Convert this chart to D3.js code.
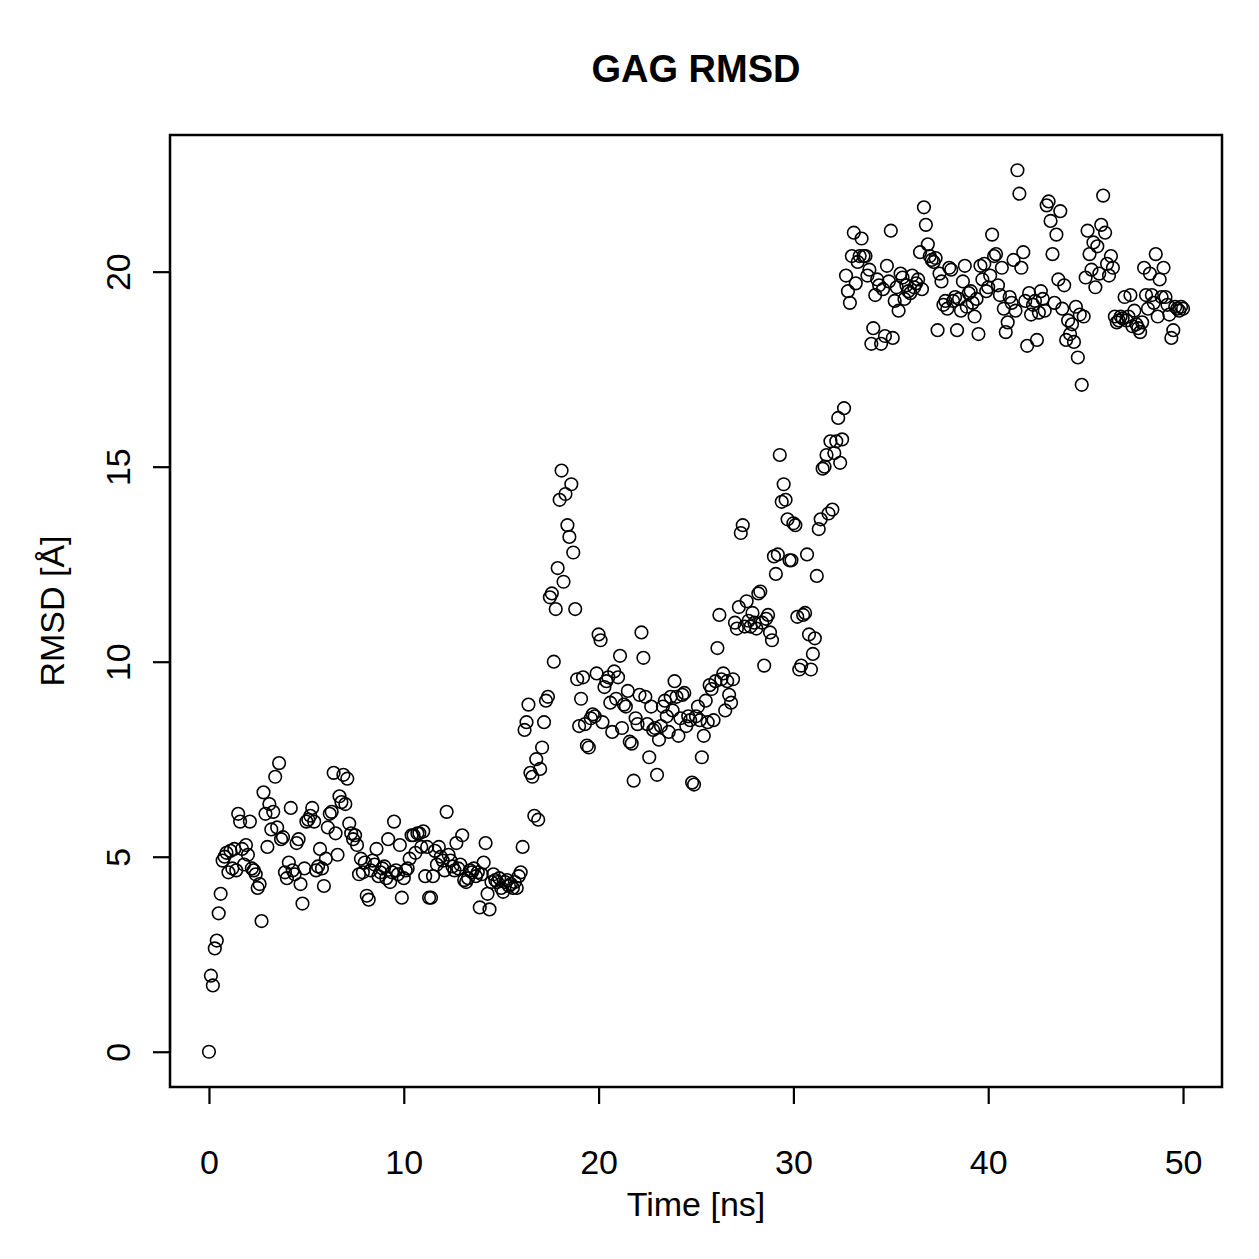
<!DOCTYPE html>
<html>
<head>
<meta charset="utf-8">
<script src="https://cdn.jsdelivr.net/npm/d3@7"></script>
<style>
  body { margin: 0; background: #fff; }
  text { font-family: "Liberation Sans", Arial, sans-serif; fill: #000; }
</style>
</head>
<body>
<div id="chart"></div>
<script>
// Data: RMSD sampled every 0.1 ns, grouped by 1 ns blocks
const timeStep = 0.1;
const rmsd0to16 = [
  0, 1.95, 1.7, 2.65, 2.85, 3.55, 4.05, 4.9, 5.0, 5.1,
  4.6, 5.15, 4.7, 5.2, 4.65, 6.1, 5.9, 5.2, 4.8, 5.3,
  5.05, 5.9, 4.7, 4.65, 4.55, 4.2, 4.3, 3.35, 6.65, 6.1,
  5.25, 6.35, 5.7, 6.15, 7.05, 5.75, 7.4, 5.45, 5.5, 4.6,
  4.45, 4.85, 6.25, 4.65, 4.55, 5.35, 5.45, 4.3, 3.8, 4.7,
  5.9, 5.95, 6.05, 6.25, 5.9, 4.65, 4.75, 5.2, 4.7, 4.25,
  4.95, 5.75, 6.1, 6.15, 7.15, 5.6, 5.05, 6.55, 6.4, 7.1,
  6.35, 7.0, 5.85, 5.6, 5.45, 5.55, 5.3, 4.55, 4.95, 4.6,
  4.85, 4.0, 3.9, 4.65, 4.9, 4.8, 5.2, 4.5, 4.6, 4.7,
  4.75, 4.45, 5.45, 4.35, 4.6, 5.9, 4.65, 4.55, 5.3, 3.95,
  4.45, 4.65, 4.7, 4.95, 5.55, 5.55, 5.1, 5.6, 5.6, 5.25,
  5.65, 4.5, 5.25, 3.95, 3.95, 4.5, 5.15, 4.8, 5.25, 5.0,
  4.9, 4.65, 6.15, 5.05, 4.9, 4.75, 4.65, 5.35, 4.7, 4.8,
  5.55, 4.4, 4.35, 4.45, 4.65, 4.6, 4.7, 4.5, 4.6, 3.7,
  4.55, 4.85, 5.35, 4.05, 3.65, 4.35, 4.55, 4.4, 4.35, 4.45,
  4.2, 4.1, 4.35, 4.4, 4.25, 4.3, 4.2, 4.35, 4.2, 4.5
];
const rmsd16to33 = [
  4.6, 5.25, 8.25, 8.45, 8.9, 7.15, 7.05, 6.05, 7.5, 5.95,
  7.25, 7.8, 8.45, 9.0, 9.1, 11.65, 11.75, 10.0, 11.35, 12.4,
  14.15, 14.9, 12.05, 14.3, 13.5, 13.2, 14.55, 12.8, 11.35, 9.55,
  8.35, 9.05, 9.6, 8.4, 7.85, 7.8, 8.55, 8.65, 8.6, 9.7,
  10.7, 10.55, 8.45, 9.35, 9.5, 9.6, 8.95, 8.2, 9.75, 9.05,
  9.6, 10.15, 8.3, 8.9, 8.85, 9.25, 7.95, 7.9, 6.95, 8.55,
  8.4, 9.15, 10.75, 10.1, 9.1, 8.4, 7.55, 8.85, 8.25, 8.3,
  7.1, 8.0, 8.35, 8.85, 9.0, 8.6, 8.2, 9.1, 8.75, 9.5,
  9.1, 8.1, 8.55, 9.15, 9.2, 8.35, 8.6, 8.5, 6.9, 6.85,
  8.6, 8.85, 8.5, 7.55, 8.1, 9.0, 8.45, 9.4, 9.3, 8.5,
  9.5, 10.35, 11.2, 9.55, 9.7, 8.75, 9.5, 9.15, 8.95, 9.55,
  11.0, 10.85, 11.4, 13.3, 13.5, 10.9, 11.55, 11.05, 10.9, 11.25,
  11.0, 10.85, 11.75, 11.8, 11.0, 9.9, 11.1, 11.2, 10.75, 10.55,
  12.7, 12.25, 12.75, 15.3, 14.1, 14.55, 14.15, 13.65, 12.6, 12.6,
  13.55, 13.5, 11.15, 9.8, 9.9, 11.2, 11.25, 12.75, 10.7, 9.8,
  10.2, 10.6, 12.2, 13.4, 13.65, 14.95, 15.0, 15.3, 13.8, 15.65,
  13.9, 15.35, 15.65, 16.25, 15.1, 15.7, 16.5
];
const rmsd33to50 = [
  19.9, 19.5, 19.2, 20.4, 21.0, 19.7, 20.25, 20.4, 20.85, 20.4,
  20.4, 19.9, 20.05, 18.15, 18.55, 19.4, 19.8, 19.65, 18.15, 19.55,
  18.35, 20.15, 19.75, 21.05, 18.3, 19.25, 19.6, 19.0, 19.95, 19.85,
  19.3, 19.65, 19.5, 19.45, 19.9, 19.6, 19.7, 19.8, 20.5, 19.55,
  21.65, 21.2, 20.7, 20.4, 20.3, 20.25, 20.35, 18.5, 19.95, 19.75,
  19.15, 19.25, 19.05, 20.1, 20.05, 19.25, 19.35, 18.5, 19.3, 19.0,
  19.75, 20.15, 19.1, 19.45, 19.5, 19.2, 18.85, 19.3, 18.4, 20.15,
  19.8, 20.2, 19.5, 19.6, 19.9, 20.95, 20.4, 20.45, 19.65, 19.4,
  20.1, 19.05, 18.45, 18.7, 19.35, 19.2, 20.3, 19.0, 22.6, 22.0,
  20.1, 20.5, 19.25, 18.1, 19.45, 18.9, 19.15, 19.25, 18.25, 18.95,
  19.5, 19.3, 19.0, 21.7, 21.8, 21.3, 20.45, 19.2, 20.95, 19.8,
  21.55, 19.05, 19.65, 18.25, 18.75, 18.4, 18.65, 18.2, 19.1, 17.8,
  18.9, 17.1, 18.85, 19.85, 21.05, 20.45, 20.05, 20.75, 19.6, 20.65,
  19.95, 21.2, 21.95, 21.0, 20.2, 19.9, 20.4, 20.1, 18.85, 18.7,
  18.75, 18.85, 18.8, 19.35, 18.75, 18.85, 19.4, 18.6, 19.0, 18.65,
  18.55, 18.45, 18.7, 20.1, 19.4, 19.05, 19.95, 19.4, 19.2, 20.45,
  18.85, 19.8, 19.35, 20.1, 19.35, 19.15, 18.9, 18.3, 18.5, 19.1,
  19.05, 19.0, 19.1, 19.05
];
const xTicks = [0, 10, 20, 30, 40, 50];
const yTicks = [0, 5, 10, 15, 20];
const titleText = 'GAG RMSD';
const xLabel = 'Time [ns]';
const yLabel = 'RMSD [Å]';

const rmsd = rmsd0to16.concat(rmsd16to33, rmsd33to50);
const dataset = rmsd.map((v, i) => ({ time: +(i * timeStep).toFixed(1), rmsd: v }));
const xAccessor = (d) => d.time;
const yAccessor = (d) => d.rmsd;

// Dimensions
const dimensions = {
  width: 1259,
  height: 1259,
  margin: { top: 135, bottom: 172, left: 170, right: 37 }
};
dimensions.ctrWidth = dimensions.width - dimensions.margin.left - dimensions.margin.right;
dimensions.ctrHeight = dimensions.height - dimensions.margin.top - dimensions.margin.bottom;

const svg = d3.select('#chart')
  .append('svg')
  .attr('width', dimensions.width)
  .attr('height', dimensions.height);

const ctr = svg.append('g')
  .attr('transform', `translate(${dimensions.margin.left},${dimensions.margin.top})`);

// Scales (R style: 4% padding on each side)
const pad = (ext) => {
  const r = ext[1] - ext[0];
  return [ext[0] - 0.04 * r, ext[1] + 0.04 * r];
};
const xScale = d3.scaleLinear()
  .domain(pad(d3.extent(dataset, xAccessor)))
  .range([0, dimensions.ctrWidth]);
const yScale = d3.scaleLinear()
  .domain(pad(d3.extent(dataset, yAccessor)))
  .range([dimensions.ctrHeight, 0]);

// Points
ctr.selectAll('circle')
  .data(dataset)
  .join('circle')
  .attr('cx', (d) => xScale(xAccessor(d)))
  .attr('cy', (d) => yScale(yAccessor(d)))
  .attr('r', 6.3)
  .attr('fill', 'none')
  .attr('stroke', '#000')
  .attr('stroke-width', 1.6);

// Box
ctr.append('rect')
  .attr('width', dimensions.ctrWidth)
  .attr('height', dimensions.ctrHeight)
  .attr('fill', 'none')
  .attr('stroke', '#000')
  .attr('stroke-width', 2.5);

// Axes
const xAxis = d3.axisBottom(xScale).tickValues(xTicks).tickSize(17).tickPadding(46).tickSizeOuter(0);
const xG = ctr.append('g')
  .attr('transform', `translate(0,${dimensions.ctrHeight})`)
  .call(xAxis);
xG.select('.domain').attr('d', `M${xScale(xTicks[0])},0H${xScale(xTicks[xTicks.length - 1])}`);

const yAxis = d3.axisLeft(yScale).tickValues(yTicks).tickSize(17).tickSizeOuter(0);
const yG = ctr.append('g').call(yAxis);
yG.select('.domain').attr('d', `M0,${yScale(yTicks[0])}V${yScale(yTicks[yTicks.length - 1])}`);
yG.selectAll('.tick text')
  .attr('x', 0).attr('dy', null)
  .attr('transform', 'translate(-52,0) rotate(-90)')
  .attr('text-anchor', 'middle')
  .attr('dominant-baseline', 'central');

[xG, yG].forEach((g) => {
  g.selectAll('path, line').attr('stroke', '#000').attr('stroke-width', 2.2);
  g.selectAll('text')
    .style('font-family', '"Liberation Sans", Arial, sans-serif')
    .style('font-size', '34px')
    .attr('fill', '#000');
});

// Labels
svg.append('text')
  .attr('x', (dimensions.margin.left + dimensions.width - dimensions.margin.right) / 2)
  .attr('y', 82)
  .attr('text-anchor', 'middle')
  .style('font-size', '38px')
  .style('font-weight', 'bold')
  .text(titleText);

svg.append('text')
  .attr('x', (dimensions.margin.left + dimensions.width - dimensions.margin.right) / 2)
  .attr('y', 1216)
  .attr('text-anchor', 'middle')
  .style('font-size', '34px')
  .text(xLabel);

svg.append('text')
  .attr('transform', `translate(64,${dimensions.margin.top + dimensions.ctrHeight / 2}) rotate(-90)`)
  .attr('text-anchor', 'middle')
  .style('font-size', '34px')
  .text(yLabel);
</script>
</body>
</html>
